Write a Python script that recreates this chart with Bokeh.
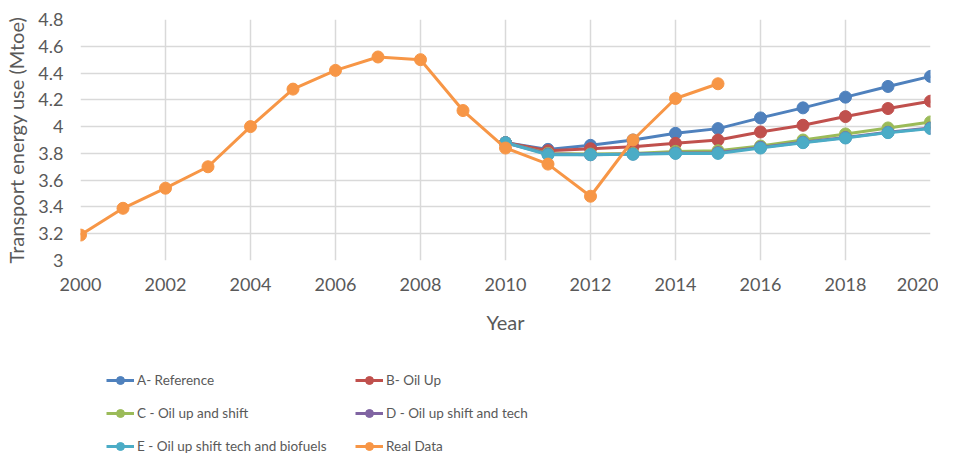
from bokeh.plotting import figure
from bokeh.layouts import column
from bokeh.models import FixedTicker, Legend, LegendItem, Range1d
from bokeh.embed import file_html
from bokeh.resources import INLINE

# ---- data ----
years_real = [2000, 2001, 2002, 2003, 2004, 2005, 2006, 2007, 2008, 2009,
              2010, 2011, 2012, 2013, 2014, 2015]
real_data = [3.19, 3.39, 3.54, 3.70, 4.00, 4.28, 4.42, 4.52, 4.50, 4.12,
             3.84, 3.72, 3.48, 3.90, 4.21, 4.32]

years_scen = [2010, 2011, 2012, 2013, 2014, 2015, 2016, 2017, 2018, 2019, 2020]
a_reference = [3.88, 3.83, 3.86, 3.90, 3.95, 3.985, 4.065, 4.14, 4.22, 4.30, 4.375]
b_oil_up = [3.88, 3.82, 3.835, 3.85, 3.875, 3.90, 3.96, 4.01, 4.075, 4.135, 4.19]
c_oil_up_shift = [3.88, 3.80, 3.795, 3.80, 3.815, 3.82, 3.855, 3.90, 3.945, 3.99, 4.035]
d_oil_up_shift_tech = [3.88, 3.795, 3.79, 3.795, 3.803, 3.805, 3.845, 3.883, 3.918, 3.958, 3.99]
e_oil_up_shift_tech_bio = [3.88, 3.79, 3.79, 3.793, 3.80, 3.80, 3.84, 3.88, 3.915, 3.955, 3.985]

series_names = ["A- Reference", "B- Oil Up", "C - Oil up and shift",
                "D - Oil up shift and tech", "E - Oil up shift tech and biofuels",
                "Real Data"]

x_ticks = [2000, 2002, 2004, 2006, 2008, 2010, 2012, 2014, 2016, 2018, 2020]
y_ticks = [3, 3.2, 3.4, 3.6, 3.8, 4, 4.2, 4.4, 4.6, 4.8]
y_tick_labels = ["3", "3.2", "3.4", "3.6", "3.8", "4", "4.2", "4.4", "4.6", "4.8"]

colors = ["#4F81BD", "#C0504D", "#9BBB59", "#8064A2", "#4BACC6", "#F79646"]

FONT = "Lato"
TXT = "#595959"
GRID = "#D9D9D9"

xs_list = [years_scen] * 5 + [years_real]
ys_list = [a_reference, b_oil_up, c_oil_up_shift, d_oil_up_shift_tech,
           e_oil_up_shift_tech_bio, real_data]

# ---- main chart ----
p = figure(width=938, height=336, output_backend="svg", toolbar_location=None,
           x_range=Range1d(2000, 2020), y_range=Range1d(3, 4.8),
           min_border_left=80, min_border_right=8, min_border_top=19,
           min_border_bottom=76)
p.outline_line_color = None
p.background_fill_color = "white"

for xs, ys, c in zip(xs_list, ys_list, colors):
    p.line(xs, ys, line_color=c, line_width=3)
    p.scatter(xs, ys, size=12, fill_color=c, line_color=c)

p.xaxis.ticker = FixedTicker(ticks=x_ticks)
p.yaxis.ticker = FixedTicker(ticks=y_ticks)
p.yaxis.major_label_overrides = dict(zip(y_ticks, y_tick_labels))
for ax in (p.xaxis[0], p.yaxis[0]):
    ax.axis_line_color = None
    ax.major_tick_line_color = None
    ax.minor_tick_line_color = None
    ax.major_tick_out = 0
    ax.major_tick_in = 0
    ax.major_label_text_font = FONT
    ax.major_label_text_font_size = "18px"
    ax.major_label_text_color = TXT
    ax.axis_label_text_font = FONT
    ax.axis_label_text_font_size = "20px"
    ax.axis_label_text_color = TXT
    ax.axis_label_text_font_style = "normal"
p.xaxis.axis_label = "Year"
p.yaxis.axis_label = "Transport energy use (Mtoe)"
p.xaxis.major_label_standoff = 17
p.yaxis.major_label_standoff = 17
p.xaxis.axis_label_standoff = 16
p.yaxis.axis_label_standoff = 7

p.xgrid.grid_line_color = GRID
p.ygrid.grid_line_color = GRID
p.xgrid.grid_line_width = 1.5
p.ygrid.grid_line_width = 1.5

# ---- legend strip: proxy renderers whose data lie outside this strip's ranges ----
lg = figure(width=938, height=121, output_backend="svg", toolbar_location=None,
            x_axis_location=None, y_axis_location=None, min_border=0,
            x_range=Range1d(0, 1), y_range=Range1d(0, 1))
lg.outline_line_color = None
lg.xgrid.visible = False
lg.ygrid.visible = False

items = []
for name, xs, ys, c in zip(series_names, xs_list, ys_list, colors):
    l = lg.line(xs, ys, line_color=c, line_width=3)
    s = lg.scatter(xs, ys, size=9, fill_color=c, line_color=c)
    items.append(LegendItem(label=name, renderers=[l, s]))

# column-major fill: col0 = A, C, E ; col1 = B, D, Real
ordered = [items[0], items[2], items[4], items[1], items[3], items[5]]
legend = Legend(items=ordered, ncols=2, location=(26, 1),
                border_line_color=None, background_fill_alpha=0,
                label_text_font=FONT, label_text_font_size="13.5px",
                label_text_color=TXT, glyph_width=28, glyph_height=20,
                label_width=205, label_standoff=3, spacing=13,
                padding=0, margin=0)
lg.add_layout(legend, "center")

layout = column(p, lg, spacing=0)
open("out.html", "w").write(file_html(layout, INLINE))
